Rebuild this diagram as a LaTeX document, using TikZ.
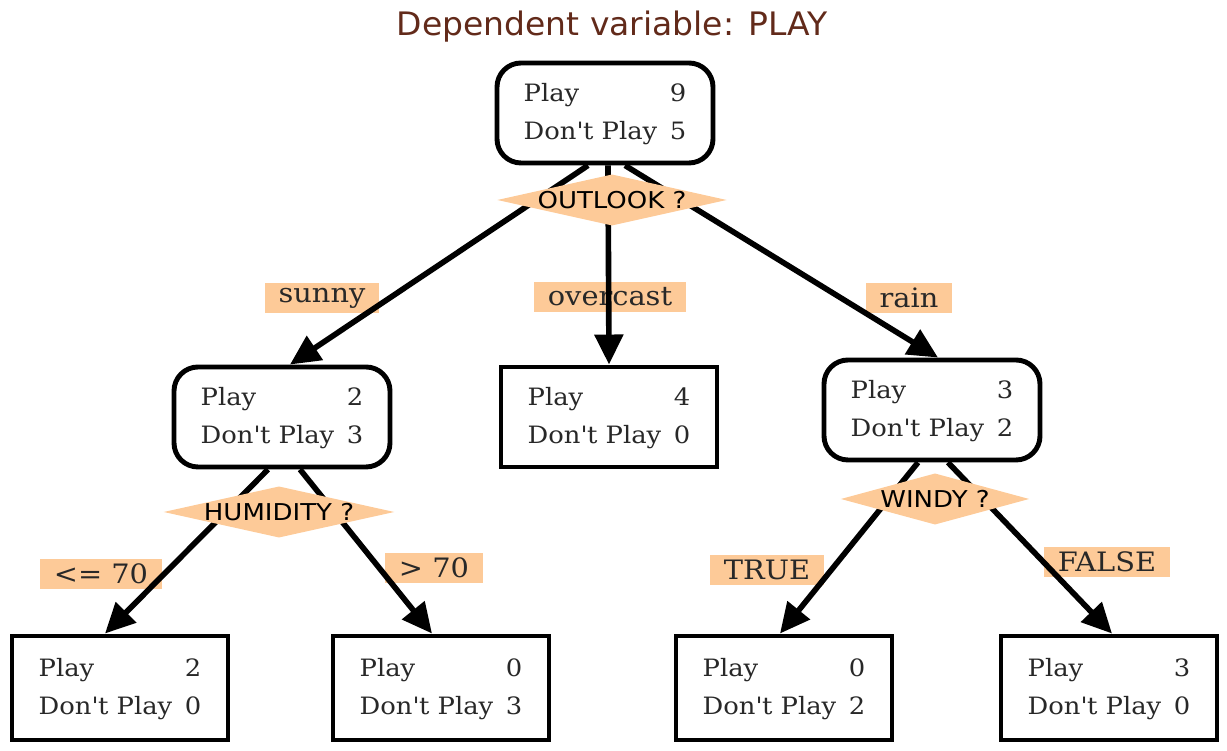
\documentclass[tikz,border=0pt]{standalone}
\usepackage{fontspec}
\setmainfont{DejaVu Serif}[FakeStretch=1.08]
\newfontfamily\diamfont{DejaVu Sans}[FakeStretch=1.12]
\newfontfamily\titlefont{DejaVu Sans}[FakeStretch=1.02]
\usetikzlibrary{shapes.geometric}
\usetikzlibrary{arrows.meta}
\definecolor{peach}{RGB}{253,202,152}
\definecolor{titlebrown}{RGB}{98,42,26}
\definecolor{boxtext}{RGB}{40,40,40}
\newcommand{\counts}[2]{\begin{tabular}{@{}l@{\hspace{9pt}}r@{}}Play & #1\\ Don\textquotesingle t Play & #2\end{tabular}}

\begin{document}
\begin{tikzpicture}[
	countbox/.style={draw,line width=3.5pt,minimum width=5.4cm,minimum height=2.5cm,text=boxtext,font=\fontsize{17}{27}\selectfont},
	split/.style={countbox,rounded corners=0.6cm},
	leaf/.style={countbox,rectangle},
	branch/.style={fill=peach,inner xsep=10pt,inner ysep=1pt,minimum height=0.75cm,text=boxtext,font=\fontsize{19}{22}\selectfont},
	question/.style={diamond,fill=peach,aspect=4.6,inner sep=0pt,minimum height=1.28cm,text=black,font=\diamfont\fontsize{16.5}{19}\selectfont},
	link/.style={line width=4pt,-{Triangle[length=0.75cm,width=0.7cm]}}]
		\useasboundingbox (0,0) rectangle (30.675,18.775);
		\path (15.3,18.1) node(title)[text=titlebrown,font=\titlefont\fontsize{23}{27}\selectfont]{Dependent variable: PLAY}
		(15.125,15.95) node(root)[split]{\counts{9}{5}}
		(7.05,8.35) node(sunny)[split]{\counts{2}{3}}
		(15.225,8.35) node(overcast)[leaf]{\counts{4}{0}}
		(23.3,8.525) node(rain)[split]{\counts{3}{2}}
		(3.0,1.575) node(low)[leaf,minimum height=2.6cm]{\counts{2}{0}}
		(11.025,1.575) node(high)[leaf,minimum height=2.6cm]{\counts{0}{3}}
		(19.6,1.575) node(windy)[leaf,minimum height=2.6cm]{\counts{0}{2}}
		(27.725,1.575) node(calm)[leaf,minimum height=2.6cm]{\counts{3}{0}};
		% branch labels under the edges
		\path (8.05,11.325) node(sunnylbl)[branch]{sunny}
		(15.25,11.35) node(overcastlbl)[branch]{overcast}
		(22.725,11.325) node(rainlbl)[branch]{rain}
		(2.525,4.425) node(lowlbl)[branch]{<= 70}
		(10.85,4.575) node(highlbl)[branch]{> 70}
		(19.175,4.525) node(truelbl)[branch]{TRUE}
		(27.675,4.725) node(falselbl)[branch]{FALSE};
		\draw[link] ([xshift=-0.425cm]root.south) -- ([xshift=0.2cm]sunny.north);
		\draw[link] ([xshift=0.075cm]root.south) -- (overcast.north);
		\draw[link] ([xshift=0.5cm]root.south) -- ([xshift=0.15cm]rain.north);
		\draw[link] ([xshift=-0.35cm]sunny.south) -- ([xshift=-0.375cm]low.north);
		\draw[link] ([xshift=0.45cm]sunny.south) -- ([xshift=-0.225cm]high.north);
		\draw[link] ([xshift=-0.35cm]rain.south) -- ([xshift=-0.1cm]windy.north);
		\draw[link] ([xshift=0.4cm]rain.south) -- ([xshift=0.075cm]calm.north);
		% questions on top of the edges
		\path (15.3,13.775) node(outlook)[question]{OUTLOOK ?}
		(6.975,5.975) node(humidity)[question]{HUMIDITY ?}
		(23.375,6.3) node(wind)[question]{WINDY ?};
	\end{tikzpicture}
\end{document}
